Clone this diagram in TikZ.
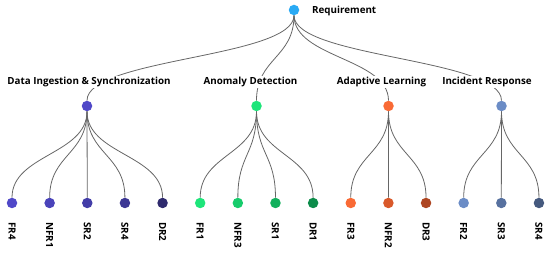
\documentclass[tikz,border=0pt]{standalone}
\usepackage{fontspec}
\setmainfont{Open Sans}
\usetikzlibrary{backgrounds}
\definecolor{rootblue}{HTML}{2AAAF4}
\definecolor{ingA}{HTML}{5048C8}
\definecolor{ingB}{HTML}{4A43BA}
\definecolor{ingC}{HTML}{433DA8}
\definecolor{ingD}{HTML}{3C3794}
\definecolor{ingE}{HTML}{2F2B6E}
\definecolor{anoA}{HTML}{1EE57A}
\definecolor{anoB}{HTML}{17CC6C}
\definecolor{anoC}{HTML}{12B05C}
\definecolor{anoD}{HTML}{0C8C4A}
\definecolor{adaA}{HTML}{F96A35}
\definecolor{adaB}{HTML}{D9592A}
\definecolor{adaC}{HTML}{AE4622}
\definecolor{incA}{HTML}{6B8CC6}
\definecolor{incB}{HTML}{57719F}
\definecolor{incC}{HTML}{45597E}
\tikzset{
  every picture/.style={font=\bfseries\fontsize{9.8}{11}\selectfont, line join=round, line cap=round},
  dot/.style={circle, inner sep=0pt, minimum size=10.5pt},
  branch/.style={draw=black!60, line width=0.8pt},
  grouplabel/.style={fill=white, inner sep=1pt},
  leaflabel/.style={rotate=-90, anchor=west, inner sep=0pt},
}

\begin{document}
\begin{tikzpicture}[x=1pt,y=-1pt]
\useasboundingbox (0,0) rectangle (550,254);
\node[dot,fill=rootblue](req) at (294,10){};
\node[anchor=west,inner sep=0pt](reqlabel) at (312,11){Requirement};
% groups
\node[dot,fill=ingA](ing) at (87,106){};
\node[dot,fill=anoA](ano) at (256.5,106){};
\node[dot,fill=adaA](ada) at (388.5,106){};
\node[dot,fill=incA](inc) at (501.5,106){};
\node[grouplabel](inglabel) at (89,82){Data Ingestion \& Synchronization};
\node[grouplabel](anolabel) at (250.5,82){Anomaly Detection};
\node[grouplabel](adalabel) at (381.5,82){Adaptive Learning};
\node[grouplabel](inclabel) at (487,82){Incident Response};
% leaves
\foreach \name/\txt/\col [count=\i from 0] in {fra/FR4/ingA, nfra/NFR1/ingB, sra/SR2/ingC, srb/SR4/ingD, dra/DR2/ingE,
  frb/FR1/anoA, nfrb/NFR3/anoB, src/SR1/anoC, drb/DR1/anoD,
  frc/FR3/adaA, nfrc/NFR2/adaB, drc/DR3/adaC,
  frd/FR2/incA, srd/SR3/incB, sre/SR4/incC}{
  \node[dot,fill=\col](\name) at ({12+37.64*\i},203){};
  \node[leaflabel](\name-l) at ({12+37.64*\i},222){\txt};
}
% branches
\begin{scope}[on background layer]
\foreach \child in {ing,ano,ada,inc}
  \draw[branch](req) .. controls +(0,48) and +(0,-48) .. (\child);
\foreach \child/\up in {fra/ing,nfra/ing,sra/ing,srb/ing,dra/ing,frb/ano,nfrb/ano,src/ano,drb/ano,frc/ada,nfrc/ada,drc/ada,frd/inc,srd/inc,sre/inc}
  \draw[branch](\up) .. controls +(0,48.5) and +(0,-48.5) .. (\child);
\end{scope}
\end{tikzpicture}
\end{document}
